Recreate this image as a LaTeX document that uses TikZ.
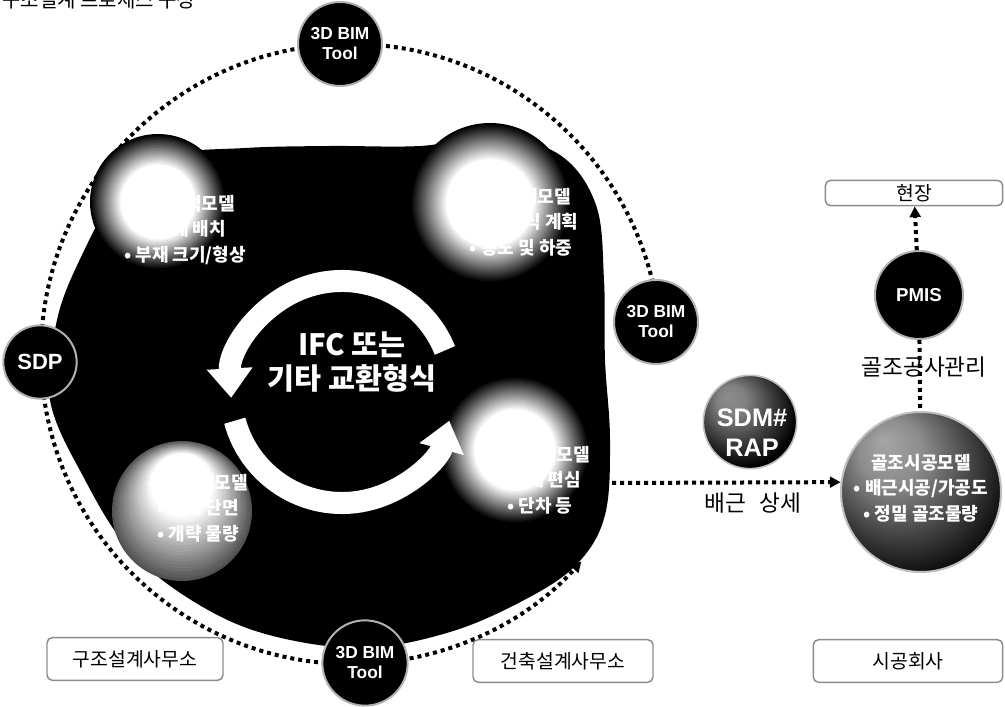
\documentclass[tikz,border=0pt]{standalone}
\usepackage{fontspec}
\setmainfont{Liberation Sans}
\newfontfamily\kr{Noto Sans CJK KR}
\usetikzlibrary{arrows.meta}
\pgfdeclareradialshading{sdmball}{\pgfpoint{-12bp}{14bp}}{color(0bp)=(black!45); color(8bp)=(black!50); color(30bp)=(black); color(50bp)=(black)}
\pgfdeclareradialshading{bigball}{\pgfpoint{-12bp}{16bp}}{color(0bp)=(black!35); color(10bp)=(black!45); color(34bp)=(black); color(50bp)=(black)}
\newcommand\hilite[3]{%
  \foreach \k [evaluate=\k as \c using {int(100-5*\k)}, evaluate=\k as \r using {#3*(1-0.45*\k/20)}] in {0,...,20}
    {\fill[black!\c] (#1,#2) circle[radius=\r];}}
\newcommand\grayball[3]{%
  \foreach \k [evaluate=\k as \c using {int(68-3.4*\k)}, evaluate=\k as \r using {#3*(1-0.55*\k/20)}, evaluate=\k as \yy using {#2+26*\k/20}] in {0,...,20}
    {\fill[black!\c] (#1,\yy) circle[radius=\r];}}
\begin{document}
\begin{tikzpicture}[x=0.75pt,y=0.75pt,
  tool/.style={circle,fill=black,draw=black!30,line width=1.5pt,text=white,align=center,inner sep=0pt,font=\bfseries\fontsize{13}{15}\selectfont},
  office/.style={draw=black!45,line width=1.1pt,rounded corners=4pt,inner sep=0pt,font=\kr\fontsize{14.5}{16}\selectfont},
  spheretext/.style={text=white,align=center,inner sep=0pt,font=\kr\bfseries\fontsize{13.5}{19}\selectfont},
  dots/.style={line width=3pt,dash pattern=on 3pt off 3pt},
  ringarc/.style={white,line width=16.5pt,-{Triangle[length=22pt,width=33pt]}},
  arr/.style={-{Triangle[length=8pt,width=8pt]}},
  lbl/.style={font=\kr\fontsize{17}{19}\selectfont,inner sep=0pt},
]
\useasboundingbox (0,0) rectangle (1005,706);
\clip (0,0) rectangle (1005,706);
\fill[white] (0,0) rectangle (1005,706);
% title (cut off at the top)
\node[anchor=base west,inner sep=0pt,font=\kr\fontsize{15}{16}\selectfont] (title) at (2,698) {구조설계 프로세스 구성};
% dotted cycle
\coordinate (rc) at (351,352);
\draw[dots,arr] (rc) ++(0:310) arc[start angle=0,end angle=318,radius=310];
% black body
\fill plot[smooth cycle,tension=0.6] coordinates {(50,306) (57,386) (82,451) (118,514) (165,550) (245,558) (330,560) (420,560) (495,569) (560,551) (596,501) (604,426) (605,346) (610,266) (605,191) (578,143) (528,108) (450,74) (360,58) (262,73) (188,108) (128,158) (84,228)};
% highlights of the spheres
\hilite{158}{504}{68}
\hilite{490}{503}{80}
\hilite{515}{256}{74}
\grayball{182}{195}{70}
% white ring of arrows
\coordinate (cc) at (342,314);
\draw[ringarc] (cc) ++(22:111) arc[start angle=22,end angle=183,radius=111];
\draw[ringarc] (cc) ++(195:111) arc[start angle=195,end angle=345,radius=111];
\node[text=white,align=center,inner sep=0pt,font=\kr\bfseries\fontsize{22}{26}\selectfont] (ifc) at (352,344) {IFC 또는\\기타 교환형식};
% sphere texts
\node[spheretext] (tlt) at (185,476) {구조해석모델\\• 부재 배치\\• 부재 크기/형상};
\node[spheretext] (trt) at (521,484) {건축설계모델\\• 구조형식 계획\\• 용도 및 하중};
\node[spheretext] (blt) at (198,198) {구조설계모델\\• 부재 단면\\• 개략 물량};
\node[spheretext] (brt) at (540,226) {구조상세모델\\• 부재 편심\\• 단차 등};
% tool nodes
\node[tool,minimum size=63pt] (tooltop) at (340,662) {3D BIM\\Tool};
\node[tool,minimum size=63pt] (toolright) at (656,384) {3D BIM\\Tool};
\node[tool,minimum size=64pt] (toolbot) at (365,43) {3D BIM\\Tool};
\node[tool,minimum size=55pt,font=\bfseries\fontsize{16.5}{18}\selectfont] (sdp) at (40,344) {SDP};
% SDM# RAP
\node[circle,shade,shading=sdmball,draw=black!25,line width=1.2pt,minimum size=70pt,inner sep=0pt] (sdm) at (750,284) {};
\node[text=white,align=center,inner sep=0pt,font=\bfseries\fontsize{19}{22.5}\selectfont] (sdmt) at (752,273) {SDM\#\\RAP};
% construction sphere
\node[circle,shade,shading=bigball,draw=black!25,line width=1.5pt,minimum size=120pt,inner sep=0pt] (bigsph) at (921,214) {};
\node[spheretext] (bigt) at (921,218) {골조시공모델\\• 배근시공/가공도\\• 정밀 골조물량};
\coordinate (ast) at (612,223);
\draw[dots,arr] (ast) -- (bigsph.173);
\node[lbl] (rebar) at (753,203) {배근\hspace{0.6em}상세};
% PMIS and site
\node[tool,minimum size=66pt,font=\bfseries\fontsize{14}{16}\selectfont] (pmis) at (919,411) {PMIS};
\node[office,minimum width=133pt,minimum height=19pt] (site) at (914,513) {현장};
\draw[dots,arr] (pmis) -- (site);
\draw[dots] (pmis) -- (bigsph);
\node[lbl] (mgmt) at (924,339) {골조공사관리};
% offices
\node[office,minimum width=132pt,minimum height=32pt] (strof) at (135,47) {구조설계사무소};
\node[office,minimum width=135pt,minimum height=32pt] (archof) at (563,45) {건축설계사무소};
\node[office,minimum width=142pt,minimum height=32pt] (conof) at (908,45) {시공회사};
\end{tikzpicture}
\end{document}
